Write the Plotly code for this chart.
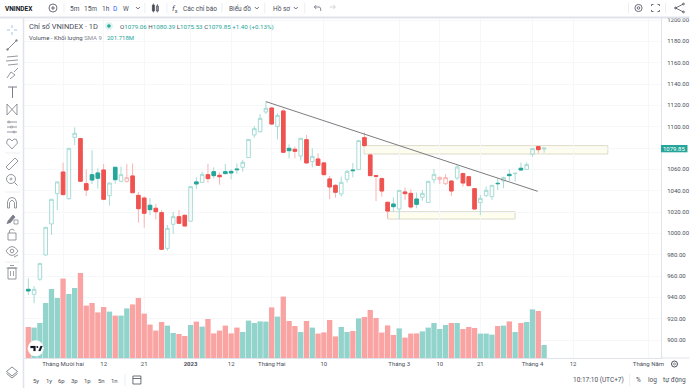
import plotly.graph_objects as go

# ---------- data ----------
opens = [947.5,942.8,957,979.7,1008.8,1037.2,1057.5,1032.5,1090,1088.8,1046.6,1055,1056.6,1059.4,1035.3,1061.9,1048.8,1048.8,1053.8,1035.6,
         1033.1,1026.3,1023.5,1019.4,985.9,1008.5,1015.6,1016.9,1011.3,1048.2,1047.8,1055,1057.8,1054.4,1057.8,1058.1,1060.3,1061.9,1071,1092.2,
         1095.3,1113.8,1117.5,1100,1114.7,1079.7,1078.8,1072.5,1087.8,1067.2,1069.7,1066,1051,1045,1036.9,1050.6,1059.4,1059.7,1089.7,1073.5,
         1054.1,1051.3,1029.1,1027.5,1022.8,1038.8,1037.5,1032.2,1033.8,1028.8,1050.3,1050.6,1046.6,1049,1051.9,1056,1053.1,1041.9,1028.8,1035.3,
         1034.4,1046.9,1049.1,1055.3,1056,1061,1060,1074.1,1081.3,1079.06]
highs = [957.8,950.6,972,1006,1032,1048.5,1066.3,1080,1099.4,1089,1060,1077.8,1061,1065,1047.5,1062,1062.5,1065,1065.6,1038.8,
         1034.4,1033.1,1027.5,1021.9,1007.8,1020.3,1021.9,1017.5,1044,1052.5,1057.8,1065.3,1061.9,1057.2,1065,1060,1065.6,1068.8,1088.4,1100.6,
         1111.9,1123.5,1118,1112.5,1116.3,1083.5,1081.3,1089.4,1092.2,1079.7,1075,1066.3,1053.8,1046,1053.2,1059.4,1066,1087.2,1094.7,1073.8,
         1054.7,1052.5,1029.5,1033.8,1040.6,1043.1,1041.3,1038.2,1040.6,1049,1060.3,1053.1,1055.3,1050,1064,1056.9,1054,1042,1036,1043.8,
         1045.3,1051.6,1053.1,1060,1056.6,1066.3,1066.6,1079.6,1081.4,1080.39]
lows = [942.2,934.4,955.6,979,998.5,1021.9,1036,1031.6,1082.8,1048.6,1035,1046.3,1041.9,1031,1026,1046.3,1048,1047.5,1037.8,1010,
        1005.3,1017.2,1013.1,985,983.8,999.4,1009,1006.5,1011,1041.6,1047.5,1047.5,1051.3,1045.6,1055.3,1050.6,1055.6,1057.8,1070.8,1089.7,
        1094.4,1111.9,1102,1088.1,1075.8,1070.3,1070.3,1068.2,1065.8,1061.9,1063.5,1054.8,1031.9,1033.5,1034.4,1047.5,1052.5,1059.4,1081.9,1053.8,
        1030.3,1034.4,1014,1020.3,1013,1031.3,1023,1023.5,1030.6,1028.5,1046.9,1046.3,1045.3,1035,1050,1043.8,1044.4,1022.5,1017.2,1034.4,
        1031.3,1040.6,1042.2,1049.4,1048.5,1058.8,1059.5,1071.9,1075,1075.53]
closes = [946,947.5,971.6,1005.7,1031.9,1048.2,1036.3,1079.7,1093.8,1048.8,1040.6,1050,1051.6,1031.9,1047.2,1050.3,1055,1052.2,1038.1,1023.1,
          1018.8,1022.2,1020.3,985,1004.7,1015.6,1009.4,1006.9,1043.8,1046.3,1055.3,1051.3,1054.1,1053.1,1056,1056.6,1059.7,1066.6,1088.1,1098.1,
          1107.8,1117.2,1102.5,1110.6,1076,1077.5,1076.9,1089.1,1066,1072.2,1063.8,1055,1043.5,1038.5,1047.8,1058.1,1058.8,1086.9,1082.2,1054.1,
          1053.5,1039.7,1020.9,1025,1040.3,1037.2,1024.7,1027.2,1037.5,1048.8,1055.3,1052.5,1052.2,1039.7,1062.2,1047.2,1044.7,1022.8,1032.8,1040.3,
          1045,1046.6,1052.2,1054.1,1056.3,1059.4,1064.4,1079.4,1078.45,1079.85]
volumes = [155,152,175,275,345,300,397,320,350,425,262,275,228,255,232,212,212,248,268,300,
           222,167,137,180,162,125,120,110,165,182,157,195,123,137,162,123,152,130,187,175,
           183,182,253,207,307,185,160,130,185,152,122,128,190,108,155,130,135,198,205,240,
           200,127,163,115,148,102,122,123,133,152,175,145,165,175,175,145,155,150,122,122,
           117,160,162,183,130,175,180,243,235,65]

x_tick_index = [6,13,20,28,35,42,51,64,71,78,87,94,107]
x_tick_text = ["Tháng Mười hai","12","21","<b>2023</b>","12","Tháng Hai","10","Tháng 3","10","21","Tháng 4","12","Tháng Năm"]
y_tick_values = list(range(900,1201,20))
trend_start = (41,1123.5)
trend_end = (87.9,1039.4)
zone_upper = (57.93,100,1074.4,1082.2)
zone_lower = (62,84,1013.4,1020.3)

# ---------- palette ----------
TEAL,RED = "#26a69a","#ef5350"
TEAL_PALE,RED_PALE = "#a6dbd5","#f9b4b2"
VOL_TEAL,VOL_RED = "#92d3cc","#faa3a3"
GREY,TXT = "#6a6d78","#4a4e5a"
BORDER = "#e0e3eb"
FONT = "Roboto, Arial, sans-serif"

W,H = 690,388
L,R,T,B = 24,661.5,18,358
def px(x): return (x-L)/(R-L)
def py(y): return (B-y)/(B-T)

idx = list(range(len(closes)))
fig = go.Figure()
fig.add_bar(x=idx,y=volumes,yaxis="y2",
            marker=dict(color=[VOL_TEAL if closes[i]>opens[i] else VOL_RED for i in idx],line_width=0),
            hoverinfo="skip",showlegend=False)

def style(i):
    hollow = closes[i]>opens[i]
    up = i==0 or closes[i]>=closes[i-1]
    return hollow,up

for hollow in (True,False):
    for up in (True,False):
        sel=[i for i in idx if style(i)==(hollow,up)]
        if not sel: continue
        pale = TEAL_PALE if up else RED_PALE
        strong = TEAL if up else RED
        o=[opens[i] for i in sel]; c=[closes[i] for i in sel]
        fill = "rgba(255,255,255,0)"
        side=dict(line=dict(color=pale,width=1),fillcolor=fill)
        fig.add_candlestick(x=sel,open=o,close=c,high=[highs[i] for i in sel],low=[lows[i] for i in sel],
                            increasing=side,decreasing=side,hoverinfo="skip",showlegend=False)
        if not hollow:
            body=dict(line=dict(color=strong,width=1),fillcolor=strong)
            fig.add_candlestick(x=sel,open=o,close=c,high=[max(a,b) for a,b in zip(o,c)],low=[min(a,b) for a,b in zip(o,c)],
                                increasing=body,decreasing=body,hoverinfo="skip",showlegend=False)

shapes=[]
# drawings on the chart
for z in (zone_upper,zone_lower):
    shapes.append(dict(type="rect",xref="x",yref="y",x0=z[0],x1=z[1],y0=z[2],y1=z[3],layer="below",
                       fillcolor="#fffdee",line=dict(color="#dcdacb",width=1)))
shapes.append(dict(type="line",xref="x",yref="y",x0=trend_start[0],y0=trend_start[1],x1=trend_end[0],y1=trend_end[1],
                   line=dict(color="#7c7c80",width=1),layer="above"))

def line(x0,y0,x1,y1,color=BORDER,width=1):
    shapes.append(dict(type="line",xref="paper",yref="paper",x0=px(x0),y0=py(y0),x1=px(x1),y1=py(y1),line=dict(color=color,width=width)))
def path(pts,color=GREY,width=0.8,fill=None,closed=False):
    d="M"+" L".join(f"{px(a):.5f} {py(b):.5f}" for a,b in pts)+(" Z" if closed else "")
    shapes.append(dict(type="path",xref="paper",yref="paper",path=d,line=dict(color=color,width=width),fillcolor=fill or "rgba(0,0,0,0)"))
def circ(cx,cy,r,color=GREY,width=0.8,fill=None):
    shapes.append(dict(type="circle",xref="paper",yref="paper",x0=px(cx-r),x1=px(cx+r),y0=py(cy-r),y1=py(cy+r),
                       line=dict(color=color,width=width),fillcolor=fill or "rgba(0,0,0,0)"))
def rect(x0,y0,x1,y1,color=GREY,width=0.8,fill=None):
    shapes.append(dict(type="rect",xref="paper",yref="paper",x0=px(x0),x1=px(x1),y0=py(y0),y1=py(y1),
                       line=dict(color=color,width=width),fillcolor=fill or "rgba(0,0,0,0)"))

# frame
line(0,17.5,690,17.5,BORDER,2)
line(23.5,18,23.5,388,BORDER,1.5)
for x in (64,145,167,222,265,305,629,666):
    line(x,3,x,13,"#eceef2",1)
line(630,374,630,386,"#eceef2",1)
line(125,374,125,386,"#eceef2",1)

# top bar icons
circ(53,8,4,"#4a4e5a"); line(51,8,55,8,"#4a4e5a",0.8); line(53,6,53,10,"#4a4e5a",0.8)
for cx in (138,257,296):
    path([(cx-2,7),(cx,9),(cx+2,7)],"#4a4e5a")
rect(152.5,5,154.5,11,"#4a4e5a",0.8,"#4a4e5a"); line(153.5,3.5,153.5,12.5,"#4a4e5a",0.7)
rect(156.5,6,158.5,11,"#4a4e5a",0.8); line(157.5,4,157.5,12.5,"#4a4e5a",0.7)
path([(320,7),(314.5,7),(316.5,5)],GREY); path([(314.5,7),(316.5,9)],GREY); path([(320,7),(321,9),(321,11)],GREY)
path([(330,7),(335.5,7),(333.5,5)],"#c8cad0"); path([(335.5,7),(333.5,9)],"#c8cad0")
circ(639,8,3.6,"#4a4e5a"); circ(639,8,1.3,"#4a4e5a")
for a,b,c,d in ((652,6,652,4.5),(652,4.5,654,4.5),(658,4.5,660,4.5),(660,4.5,660,6),(652,10,652,11.5),(652,11.5,654,11.5),(658,11.5,660,11.5),(660,10,660,11.5)):
    line(a,b,c,d,"#4a4e5a",0.8)
path([(684,4),(676,8),(684,12)],"#4a4e5a"); circ(684,4,0.9,"#4a4e5a"); circ(676,8,0.9,"#4a4e5a"); circ(684,12,0.9,"#4a4e5a")

# left toolbar icons
IC="#7b7e88"
for a,b,c,d in ((12,25,12,28),(12,32,12,35),(7,30,10,30),(14,30,17,30)):
    line(a,b,c,d,"#a9c0f5",1)
line(7,50,17,40,IC,0.9); circ(7.5,49.5,0.9,IC); circ(16.5,40.5,0.9,IC)
for y,a in ((57,7),(61,6),(65,8)):
    line(a,y,18,y-1,IC,0.8)
path([(7,78),(11,72),(15,75),(10,79)],IC); line(14,72,18,68,IC,0.8)
line(8,87,17,87,IC,1); line(12.5,87,12.5,98,IC,1)
path([(7,104),(17,115),(17,104),(7,115),(7,104)],IC,0.8)
for y in (122,127,132):
    line(7,y,17,y,IC,0.8); circ(9+(y-122)*0.5,y,1,IC,0.7,"#ffffff")
path([(12,149),(6.5,143),(7.5,139.5),(10,139),(12,141),(14,139),(16.5,139.5),(17.5,143),(12,149)],IC)
line(5,153,20,153,"#eceef2",1)
path([(6,167),(15,158),(18,161),(9,170)],IC,0.8,closed=True)
circ(11,179,4.5,IC); line(14.5,182.5,17.5,185.5,IC,0.9); line(9.5,179,12.5,179,IC,0.7); line(11,177.5,11,180.5,IC,0.7)
line(5,192,20,192,"#eceef2",1)
path([(7.5,208),(7.5,202),(9,198.5),(12,197.5),(15,198.5),(16.5,202),(16.5,208),(14.5,208),(14.5,202.5),(12,200),(9.5,202.5),(9.5,208),(7.5,208)],IC)
path([(7,224),(8,221),(13,215),(15,217),(10,223)],IC,0.8,IC); rect(14,220,18,224,IC,0.7)
rect(8,233,16,240,IC); path([(9.5,233),(9.5,230.5),(12,229),(14.5,230.5)],IC)
path([(6,251),(9,247.5),(12,246.5),(15,247.5),(18,251),(15,254.5),(12,255.5),(9,254.5),(6,251)],IC); circ(12,251,1.8,IC); line(14,257,18,255,IC,0.8)
line(5,262,20,262,"#eceef2",1)
rect(8,268,16,279,IC); line(6.5,268,17.5,268,IC,0.8); line(10,265.5,14,265.5,IC,0.8); line(10.5,271,10.5,276,IC,0.7); line(13.5,271,13.5,276,IC,0.7)
path([(12,367),(17.5,371.5),(12,376),(6.5,371.5)],IC,0.9,closed=True); path([(6.5,373.5),(12,378),(17.5,373.5)],IC,0.9)

# TradingView mark
circ(35.7,348.3,8,"#ffffff",0,"#ffffff")
path([(30.5,346),(35.5,346),(35.5,351),(33.5,351),(33.5,348),(30.5,348)],"#131722",0.2,"#131722",True)
circ(37.3,347,1,"#131722",0,"#131722")
path([(38.5,351),(40.5,346),(42.5,346),(40.5,351)],"#131722",0.2,"#131722",True)

# last price tag
rect(661.5,145,688,152.3,TEAL,0,TEAL)
# status dot
circ(109,26,4,"#dff3f0",0,"#dff3f0"); circ(109,26,1.8,TEAL,0,TEAL)
# bottom
rect(133,376,141,384,"#4a4e5a"); line(133,378.5,141,378.5,"#4a4e5a",0.8)
circ(675,364,3,"#4a4e5a",1); circ(675,364,1,"#4a4e5a",0.6)
line(661.5,358,690,358,BORDER,1)

annots=[]
def text(x,y,s,size=6,color=TXT,anchor="left"):
    annots.append(dict(xref="paper",yref="paper",x=px(x),y=py(y),text=s,showarrow=False,xanchor=anchor,yanchor="middle",
                       align="left",font=dict(family=FONT,size=size,color=color),borderpad=0,borderwidth=0))

text(5,8.5,"<b>VNINDEX</b>",6.5,"#131722")
for x,s,c in ((70,"5m",TXT),(84,"15m",TXT),(102,"1h",TXT),(113,"D","#2962ff"),(123.5,"W",TXT)):
    text(x,8.5,s,6.5,c)
text(172,8.5,"<i>f</i><sub>x</sub>",8,"#4a4e5a")
text(183,8.5,"Các chỉ báo",6.5)
text(229,8.5,"Biểu đồ",6.5)
text(273,8.5,"Hồ sơ",6.5)
text(29,26,"Chỉ số VNINDEX · 1D",7.5,"#4a4e5a")
v=lambda s:f'<span style="color:{TEAL}">{s}</span>'
text(120,27,f"O{v('1079.06')} H{v('1080.39')} L{v('1075.53')} C{v('1079.85')} {v('+1.40 (+0.13%)')}",6.2)
text(29,37,"Volume - Khối lượng <span style='color:#8a8d96'>SMA 9</span>",6)
text(107.5,37,"201.718M",6,TEAL)
text(674.7,148.7,"1079.85",6,"#ffffff","center")
for x,s in ((36,"5y"),(49,"1y"),(62,"6p"),(75,"3p"),(88,"1p"),(102,"5n"),(115,"1n")):
    text(x,380,s,6,TXT,"center")
text(573,380,"10:17:10 (UTC+7)",6.5)
text(639,380,"%",6.5,TXT,"center")
text(653,380,"log",6.5,TXT,"center")
text(675,380,"tự động",6.5,TXT,"center")

grid="#f6f7f9"
fig.update_layout(
    width=W,height=H,autosize=False,margin=dict(l=L,r=W-R,t=T,b=H-B,pad=0),
    paper_bgcolor="#ffffff",plot_bgcolor="#ffffff",showlegend=False,bargap=0.08,boxgap=0.12,
    font=dict(family=FONT,size=6,color=TXT),hovermode=False,
    xaxis=dict(range=[(L-28.3)/5.8,(R-28.3)/5.8],tickmode="array",tickvals=x_tick_index,ticktext=x_tick_text,automargin=False,
               showgrid=True,gridcolor=grid,gridwidth=1,zeroline=False,showline=True,linecolor=BORDER,linewidth=1,
               ticks="",tickfont=dict(size=6,color=TXT),rangeslider=dict(visible=False),fixedrange=True),
    yaxis=dict(range=[883.125,1201.875],side="right",tickmode="array",tickvals=y_tick_values,automargin=False,
               ticktext=["" if t==1080 else f"{t:.2f}" for t in y_tick_values],showgrid=True,gridcolor=grid,gridwidth=1,zeroline=False,
               showline=True,linecolor=BORDER,linewidth=1,ticks="outside",ticklen=4,tickcolor="rgba(0,0,0,0)",
               tickfont=dict(size=6,color=TXT),fixedrange=True),
    yaxis2=dict(range=[0,1700],overlaying="y",visible=False,fixedrange=True,automargin=False),
    shapes=shapes,annotations=annots,
)
fig.write_html("out.html",config=dict(displayModeBar=False),
               post_script="document.body.style.margin='0';document.body.style.overflow='hidden';")
